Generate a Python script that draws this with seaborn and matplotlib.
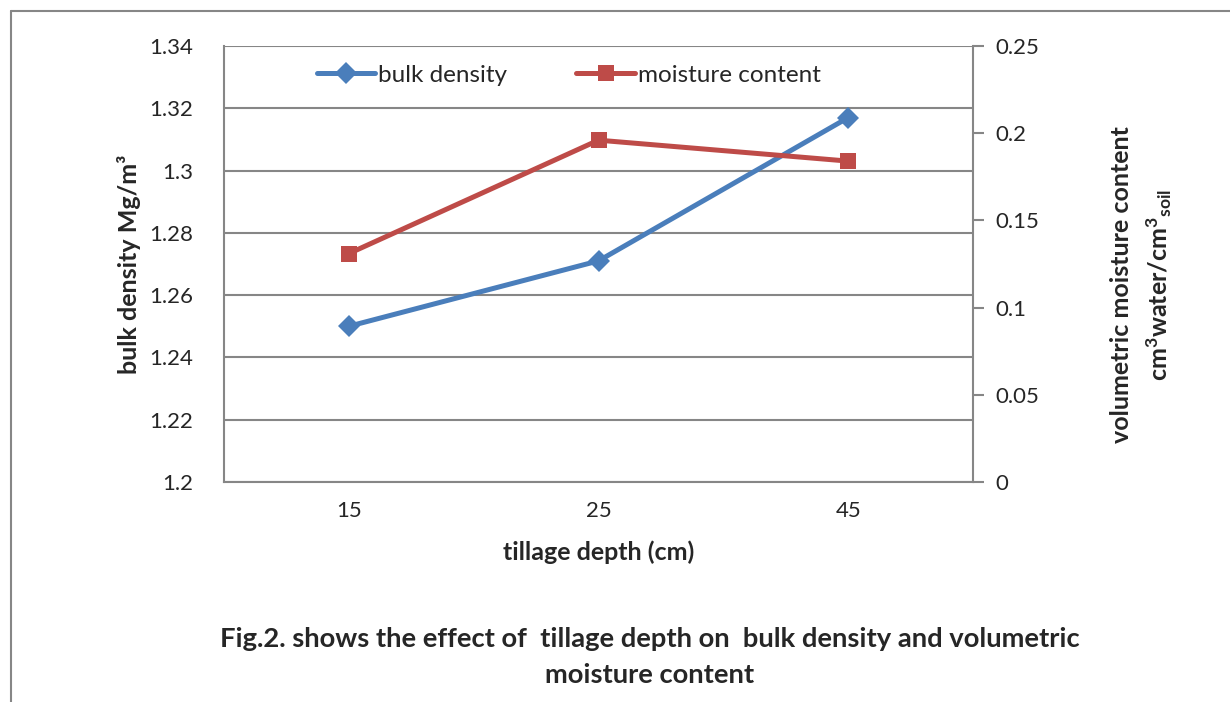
import pandas as pd
import seaborn as sns
import matplotlib.pyplot as plt
from matplotlib.lines import Line2D

# data
depth = ["15", "25", "45"]
bulk_density = [1.250, 1.271, 1.317]
moisture = [0.131, 0.196, 0.184]

df = pd.DataFrame({"depth": depth, "pos": [0, 1, 2],
                   "bulk": bulk_density, "moist": moisture})

sns.set_style("white")
plt.rcParams['font.family'] = ['Lato', 'DejaVu Sans']
plt.rcParams['mathtext.default'] = 'regular'

GRAY = "#868686"
BLUE = "#4a7ebb"
RED = "#be4b48"

fig = plt.figure(figsize=(12.3, 7.02), dpi=100)
ax = fig.add_axes([224/1230, 1 - 482/702, 749/1230, 436/702])
ax2 = ax.twinx()

sns.lineplot(data=df, x="pos", y="bulk", ax=ax, color=BLUE, lw=3.6,
             marker="D", markersize=11, markeredgewidth=0, label="bulk density",
             legend=False)
sns.lineplot(data=df, x="pos", y="moist", ax=ax2, color=RED, lw=3.6,
             marker="s", markersize=12, markeredgewidth=0, label="moisture content",
             legend=False)

ax.set_xlim(-0.5, 2.5)
ax.set_ylim(1.2, 1.34)
ax.set_yticks([1.2, 1.22, 1.24, 1.26, 1.28, 1.3, 1.32, 1.34])
ax.set_yticklabels(["1.2", "1.22", "1.24", "1.26", "1.28", "1.3", "1.32", "1.34"])
ax.set_xticks([0, 1, 2])
ax.set_xticklabels(depth)
ax2.set_ylim(0, 0.25)
ax2.set_yticks([0, 0.05, 0.1, 0.15, 0.2, 0.25])
ax2.set_yticklabels(["0", "0.05", "0.1", "0.15", "0.2", "0.25"])
ax2.set_ylabel("")

ax.grid(axis="y", color=GRAY, lw=1.5)
ax.set_axisbelow(True)
for a in (ax, ax2):
    for s in a.spines.values():
        s.set_visible(False)
ax.spines["left"].set_visible(True)
ax.spines["bottom"].set_visible(True)
ax2.spines["right"].set_visible(True)
for s in (ax.spines["left"], ax.spines["bottom"], ax2.spines["right"]):
    s.set_color(GRAY)
    s.set_linewidth(1.5)

ax.tick_params(axis="y", length=0, labelsize=16, pad=22)
ax.tick_params(axis="x", length=0, labelsize=16, pad=14)
ax2.tick_params(axis="y", length=8, width=1.5, color=GRAY, labelsize=16,
                pad=8, direction="out")

ax.set_xlabel("tillage depth (cm)", fontsize=18, fontweight="bold", labelpad=14)
ax.set_ylabel("bulk density Mg/m³", fontsize=18, fontweight="bold", labelpad=6)
# right axis title, placed as in the reference (slightly below the axes centre)
fig.text(1142/1230, 1 - 285/702,
         "volumetric moisture content\ncm$^3$water/cm$^3$$_{soil}$",
         rotation=90, ha="center", va="center", multialignment="center",
         fontsize=18, fontweight="bold", linespacing=1.45)

h = [Line2D([], [], color=BLUE, lw=3.6, marker="D", markersize=11, markeredgewidth=0),
     Line2D([], [], color=RED, lw=3.6, marker="s", markersize=12, markeredgewidth=0)]
ax.legend(h, ["bulk density", "moisture content"], loc="center left",
          bbox_to_anchor=(0.124, 0.933), ncol=2, frameon=False, fontsize=17.5,
          handlelength=2.4, handletextpad=0.12, columnspacing=2.85,
          borderpad=0, borderaxespad=0)

fig.text(0.528, 1 - 639/702, "Fig.2. shows the effect of  tillage depth on  bulk density and volumetric",
         ha="center", va="center", fontsize=19.7, fontweight="bold")
fig.text(0.528, 1 - 675/702, "moisture content",
         ha="center", va="center", fontsize=19.7, fontweight="bold")

# outer frame of the figure box
fig.add_artist(Line2D([11/1230, 11/1230], [0, 1 - 11/702], color=GRAY, lw=1.5))
fig.add_artist(Line2D([11/1230, 1], [1 - 11/702, 1 - 11/702], color=GRAY, lw=1.5))

fig.savefig("out.png", dpi=100)
